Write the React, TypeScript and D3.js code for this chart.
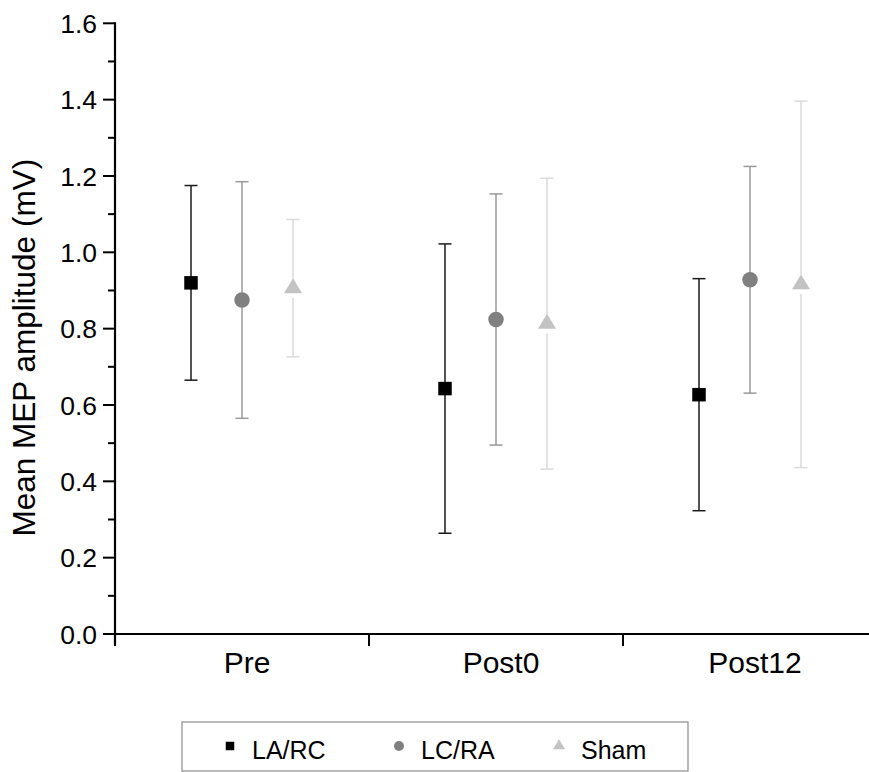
import React from "react";
import * as d3 from "d3";

// Time points and groups
const categories = ["Pre", "Post0", "Post12"];
const groups = ["LA/RC", "LC/RA", "Sham"];

// Mean MEP amplitude (mV) and error bar half-width per time point
const laRcMean = [0.92, 0.643, 0.627];
const laRcErr = [0.255, 0.379, 0.304];
const lcRaMean = [0.875, 0.824, 0.928];
const lcRaErr = [0.31, 0.329, 0.297];
const shamMean = [0.906, 0.813, 0.916];
const shamErr = [0.18, 0.381, 0.48];

const yMajorTicks = [0, 0.2, 0.4, 0.6, 0.8, 1.0, 1.2, 1.4, 1.6];
const yMinorTicks = [0.1, 0.3, 0.5, 0.7, 0.9, 1.1, 1.3, 1.5];

const W = 869;
const H = 772;
const FONT = "'Liberation Sans', Arial, Helvetica, sans-serif";

type Shape = "square" | "circle" | "triangle";
const seriesList: { name: string; mean: number[]; err: number[]; shape: Shape; fill: string; bar: string }[] = [
  { name: groups[0], mean: laRcMean, err: laRcErr, shape: "square", fill: "#000000", bar: "#1a1a1a" },
  { name: groups[1], mean: lcRaMean, err: lcRaErr, shape: "circle", fill: "#808080", bar: "#9a9a9a" },
  { name: groups[2], mean: shamMean, err: shamErr, shape: "triangle", fill: "#c3c3c3", bar: "#dadada" },
];

function Marker({ shape, cx, cy, size, fill }: { shape: Shape; cx: number; cy: number; size: number; fill: string }) {
  if (shape === "square") {
    return <rect x={cx - size / 2} y={cy - size / 2} width={size} height={size} fill={fill} />;
  }
  if (shape === "circle") {
    return <circle cx={cx} cy={cy} r={size / 2} fill={fill} />;
  }
  // triangle anchored at its centroid
  const h = size * 0.83;
  const w = size;
  const top = cy - (2 / 3) * h;
  const bot = cy + h / 3;
  return <polygon points={`${cx},${top} ${cx - w / 2},${bot} ${cx + w / 2},${bot}`} fill={fill} />;
}

export default function App() {
  const left = 115;
  const right = 877;
  const y = d3.scaleLinear().domain([0, 1.6]).range([634, 23.3]);
  const x = d3.scaleBand<string>().domain(categories).range([left, right]).padding(0);
  const offset = d3.scalePoint<string>().domain(groups).range([-51, 51]);
  const bw = x.bandwidth();
  const y0 = y(0);

  const markerSize: Record<Shape, number> = { square: 13.5, circle: 15.5, triangle: 18 };
  const gap: Record<Shape, number> = { square: 0, circle: 0, triangle: 9.7 };
  const capHalf = 6.5;

  const boundaries = d3.range(categories.length).map((i) => x(categories[i])!);

  return (
    <svg width={W} height={H} style={{ position: "absolute", left: 0, top: 0, background: "#fff" }} fontFamily={FONT}>
      <rect width={W} height={H} fill="#fff" />

      {/* error bars and markers */}
      {seriesList.map((s) => (
        <g key={s.name}>
          {categories.map((c, i) => {
            const cx = x(c)! + bw / 2 + offset(s.name)!;
            const cy = y(s.mean[i]);
            const yt = y(s.mean[i] + s.err[i]);
            const yb = y(s.mean[i] - s.err[i]);
            const g = gap[s.shape];
            return (
              <g key={c}>
                <line x1={cx} x2={cx} y1={yt} y2={cy - g} stroke={s.bar} strokeWidth={1.5} />
                <line x1={cx} x2={cx} y1={cy + g} y2={yb} stroke={s.bar} strokeWidth={1.5} />
                <line x1={cx - capHalf} x2={cx + capHalf} y1={yt} y2={yt} stroke={s.bar} strokeWidth={1.5} />
                <line x1={cx - capHalf} x2={cx + capHalf} y1={yb} y2={yb} stroke={s.bar} strokeWidth={1.5} />
                <Marker shape={s.shape} cx={cx} cy={cy} size={markerSize[s.shape]} fill={s.fill} />
              </g>
            );
          })}
        </g>
      ))}

      {/* y axis */}
      <line x1={left} x2={left} y1={y(1.6) - 1} y2={y0 + 12} stroke="#000" strokeWidth={2.2} />
      {yMajorTicks.map((t) => (
        <g key={`M${t}`}>
          <line x1={left - 12} x2={left} y1={y(t)} y2={y(t)} stroke="#000" strokeWidth={2} />
          <text x={left - 18} y={y(t)} dy="0.36em" textAnchor="end" fontSize={26.5} fill="#000">
            {t.toFixed(1)}
          </text>
        </g>
      ))}
      {yMinorTicks.map((t) => (
        <line key={`m${t}`} x1={left - 7} x2={left} y1={y(t)} y2={y(t)} stroke="#000" strokeWidth={2} />
      ))}
      <text
        transform={`translate(${35},${(y(0) + y(1.6)) / 2 + 19}) rotate(-90)`}
        textAnchor="middle"
        fontSize={31.5}
        fill="#000"
      >
        Mean MEP amplitude (mV)
      </text>

      {/* x axis */}
      <line x1={left - 12} x2={right} y1={y0} y2={y0} stroke="#000" strokeWidth={2.2} />
      {boundaries.map((b, i) => (
        <line key={`xt${i}`} x1={b} x2={b} y1={y0} y2={y0 + 12} stroke="#000" strokeWidth={2} />
      ))}
      {categories.map((c) => (
        <text key={c} x={x(c)! + bw / 2 + 5} y={673} textAnchor="middle" fontSize={30} fill="#000">
          {c}
        </text>
      ))}

      {/* legend */}
      <rect x={182} y={722} width={506} height={49} fill="#fff" stroke="#8c8c8c" strokeWidth={1.2} />
      {seriesList.map((s, i) => {
        const mx = [230, 399, 559][i];
        return (
          <g key={`lg${s.name}`}>
            <Marker shape={s.shape} cx={mx} cy={746} size={s.shape === "triangle" ? 12 : s.shape === "circle" ? 10 : 8.5} fill={s.fill} />
            <text x={mx + 22} y={759} fontSize={25} fill="#000">
              {s.name}
            </text>
          </g>
        );
      })}
    </svg>
  );
}
